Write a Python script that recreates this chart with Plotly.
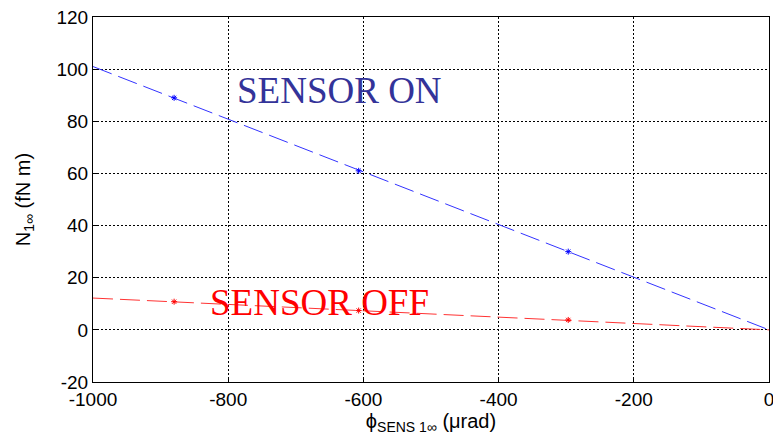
import plotly.graph_objects as go

# Measured points (phi in urad, N in fN m)
phi_pts = [-880, -607, -297]
n_on_pts = [89, 61, 30]
n_off_pts = [10.8, 7.4, 3.8]

# Linear fits drawn across the full range
phi_fit = [-1000, 0]
n_on_fit = [101, 0]
n_off_fit = [12.2, 0]

x_ticks = [-1000, -800, -600, -400, -200, 0]
x_labels = ["-1000", "-800", "-600", "-400", "-200", "0"]
y_ticks = [-20, 0, 20, 40, 60, 80, 100, 120]
y_labels = ["-20", "0", "20", "40", "60", "80", "100", "120"]

fig = go.Figure()
fig.add_trace(go.Scatter(x=phi_fit, y=n_on_fit, mode="lines",
                         line=dict(color="#3333ff", width=1, dash="20px,7px"),
                         showlegend=False, cliponaxis=False))
fig.add_trace(go.Scatter(x=phi_pts, y=n_on_pts, mode="markers",
                         marker=dict(symbol="asterisk", size=5, color="blue",
                                     line=dict(width=1, color="blue")),
                         showlegend=False))
fig.add_trace(go.Scatter(x=phi_fit, y=n_off_fit, mode="lines",
                         line=dict(color="#ff3333", width=1, dash="20px,7px"),
                         showlegend=False, cliponaxis=False))
fig.add_trace(go.Scatter(x=phi_pts, y=n_off_pts, mode="markers",
                         marker=dict(symbol="asterisk", size=5, color="red",
                                     line=dict(width=1, color="red")),
                         showlegend=False))

fig.add_annotation(x=-636, y=92, text="SENSOR ON", showarrow=False,
                   font=dict(family="Liberation Serif", size=37, color="#333399"))
fig.add_annotation(x=-665, y=10.5, text="SENSOR OFF", showarrow=False,
                   font=dict(family="Liberation Serif", size=37, color="red"))

axis_common = dict(showline=True, linecolor="black", linewidth=1, mirror=True,
                   ticks="inside", ticklen=5, tickcolor="black",
                   showgrid=True, gridcolor="black", gridwidth=1,
                   griddash="2px,2px", zeroline=False, ticklabeloverflow="allow",
                   automargin=False,
                   tickfont=dict(family="Liberation Sans", size=19, color="black"))

fig.update_xaxes(range=[-1000, 0], tickvals=x_ticks, ticktext=x_labels,
                 title=dict(text="ϕ<sub>SENS 1∞</sub> (μrad)", standoff=3,
                            font=dict(family="Liberation Sans", size=20, color="black")),
                 **axis_common)
fig.update_yaxes(range=[-20, 120], tickvals=y_ticks, ticktext=y_labels,
                 title=dict(text="N<sub>1∞</sub> (fN m)", standoff=20,
                            font=dict(family="Liberation Sans", size=20, color="black")),
                 **axis_common)

fig.update_layout(width=773, height=443, plot_bgcolor="white", paper_bgcolor="white",
                  margin=dict(l=93, r=4, t=17, b=61))

fig.write_html("out.html")
